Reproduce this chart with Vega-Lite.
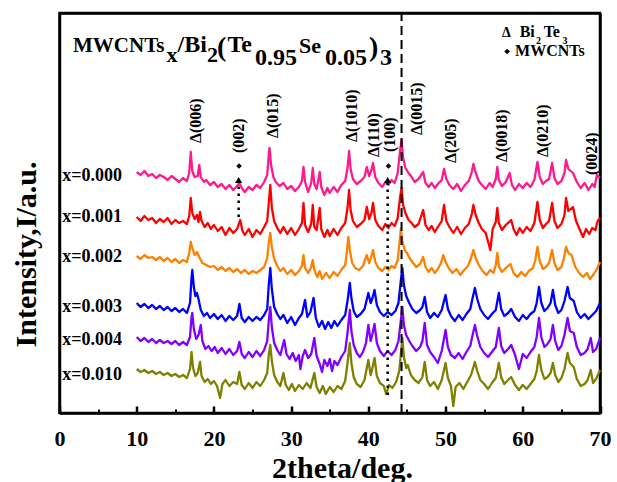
{
"$schema":"https://vega.github.io/schema/vega-lite/v6.json",
"width":540.5,"height":400,
"autosize":{"type":"none"},
"padding":{"left":59.5,"top":13,"right":17,"bottom":69},
"background":"white",
"config":{"view":{"stroke":"black","strokeWidth":2.5},"font":"Liberation Serif"},
"datasets":{
"xrd":[
{"s":"a","x":10.0,"y":241},{"s":"a","x":10.5,"y":238},{"s":"a","x":11.0,"y":242},{"s":"a","x":11.5,"y":237},{"s":"a","x":12.0,"y":239},{"s":"a","x":12.5,"y":235},{"s":"a","x":13.0,"y":238},{"s":"a","x":13.5,"y":236},{"s":"a","x":14.0,"y":233},{"s":"a","x":14.5,"y":237},{"s":"a","x":15.0,"y":234},{"s":"a","x":15.5,"y":231},{"s":"a","x":16.0,"y":235},{"s":"a","x":16.5,"y":232},{"s":"a","x":16.8,"y":240},{"s":"a","x":17.0,"y":261},{"s":"a","x":17.2,"y":242},{"s":"a","x":17.5,"y":236},{"s":"a","x":17.9,"y":237},{"s":"a","x":18.1,"y":248},{"s":"a","x":18.3,"y":236},{"s":"a","x":18.7,"y":231},{"s":"a","x":19.0,"y":233},{"s":"a","x":19.5,"y":228},{"s":"a","x":20.0,"y":231},{"s":"a","x":20.5,"y":226},{"s":"a","x":21.0,"y":229},{"s":"a","x":21.5,"y":224},{"s":"a","x":22.0,"y":228},{"s":"a","x":22.5,"y":223},{"s":"a","x":23.0,"y":227},{"s":"a","x":23.3,"y":230},{"s":"a","x":23.6,"y":225},{"s":"a","x":24.0,"y":221},{"s":"a","x":24.5,"y":226},{"s":"a","x":25.0,"y":223},{"s":"a","x":25.5,"y":228},{"s":"a","x":26.0,"y":225},{"s":"a","x":26.5,"y":231},{"s":"a","x":26.9,"y":238},{"s":"a","x":27.1,"y":258},{"s":"a","x":27.2,"y":265},{"s":"a","x":27.4,"y":248},{"s":"a","x":27.7,"y":236},{"s":"a","x":28.0,"y":231},{"s":"a","x":28.5,"y":227},{"s":"a","x":29.0,"y":230},{"s":"a","x":29.5,"y":224},{"s":"a","x":30.0,"y":227},{"s":"a","x":30.5,"y":222},{"s":"a","x":31.0,"y":226},{"s":"a","x":31.4,"y":232},{"s":"a","x":31.6,"y":246},{"s":"a","x":31.8,"y":231},{"s":"a","x":32.2,"y":221},{"s":"a","x":32.6,"y":230},{"s":"a","x":32.8,"y":245},{"s":"a","x":33.0,"y":229},{"s":"a","x":33.3,"y":224},{"s":"a","x":33.7,"y":241},{"s":"a","x":33.9,"y":226},{"s":"a","x":34.3,"y":218},{"s":"a","x":34.7,"y":225},{"s":"a","x":35.0,"y":220},{"s":"a","x":35.5,"y":226},{"s":"a","x":36.0,"y":221},{"s":"a","x":36.5,"y":228},{"s":"a","x":37.0,"y":232},{"s":"a","x":37.3,"y":245},{"s":"a","x":37.5,"y":262},{"s":"a","x":37.7,"y":244},{"s":"a","x":38.0,"y":234},{"s":"a","x":38.5,"y":229},{"s":"a","x":39.0,"y":232},{"s":"a","x":39.5,"y":236},{"s":"a","x":39.8,"y":246},{"s":"a","x":40.1,"y":237},{"s":"a","x":40.4,"y":243},{"s":"a","x":40.6,"y":250},{"s":"a","x":40.9,"y":236},{"s":"a","x":41.3,"y":230},{"s":"a","x":41.8,"y":226},{"s":"a","x":42.2,"y":231},{"s":"a","x":42.6,"y":228},{"s":"a","x":43.0,"y":233},{"s":"a","x":43.4,"y":230},{"s":"a","x":43.8,"y":240},{"s":"a","x":44.1,"y":262},{"s":"a","x":44.3,"y":273},{"s":"a","x":44.5,"y":255},{"s":"a","x":44.8,"y":245},{"s":"a","x":45.2,"y":240},{"s":"a","x":45.6,"y":236},{"s":"a","x":46.0,"y":231},{"s":"a","x":46.5,"y":234},{"s":"a","x":47.1,"y":241},{"s":"a","x":47.4,"y":230},{"s":"a","x":47.8,"y":226},{"s":"a","x":48.2,"y":230},{"s":"a","x":48.6,"y":225},{"s":"a","x":49.0,"y":229},{"s":"a","x":49.5,"y":233},{"s":"a","x":49.8,"y":244},{"s":"a","x":50.1,"y":234},{"s":"a","x":50.5,"y":228},{"s":"a","x":51.0,"y":224},{"s":"a","x":51.5,"y":229},{"s":"a","x":52.0,"y":222},{"s":"a","x":52.5,"y":228},{"s":"a","x":53.0,"y":232},{"s":"a","x":53.4,"y":241},{"s":"a","x":53.6,"y":249},{"s":"a","x":53.9,"y":240},{"s":"a","x":54.3,"y":232},{"s":"a","x":54.7,"y":228},{"s":"a","x":55.2,"y":224},{"s":"a","x":55.7,"y":230},{"s":"a","x":56.1,"y":226},{"s":"a","x":56.5,"y":234},{"s":"a","x":56.7,"y":246},{"s":"a","x":56.9,"y":233},{"s":"a","x":57.3,"y":227},{"s":"a","x":57.8,"y":231},{"s":"a","x":58.3,"y":240},{"s":"a","x":58.6,"y":228},{"s":"a","x":59.0,"y":223},{"s":"a","x":59.5,"y":229},{"s":"a","x":60.0,"y":225},{"s":"a","x":60.5,"y":230},{"s":"a","x":61.0,"y":226},{"s":"a","x":61.5,"y":233},{"s":"a","x":61.9,"y":251},{"s":"a","x":62.2,"y":236},{"s":"a","x":62.6,"y":229},{"s":"a","x":63.0,"y":232},{"s":"a","x":63.4,"y":234},{"s":"a","x":63.8,"y":250},{"s":"a","x":64.1,"y":235},{"s":"a","x":64.5,"y":229},{"s":"a","x":65.0,"y":232},{"s":"a","x":65.4,"y":240},{"s":"a","x":65.6,"y":253},{"s":"a","x":65.9,"y":244},{"s":"a","x":66.5,"y":240},{"s":"a","x":67.0,"y":231},{"s":"a","x":67.5,"y":225},{"s":"a","x":68.0,"y":230},{"s":"a","x":68.5,"y":223},{"s":"a","x":69.0,"y":229},{"s":"a","x":69.3,"y":226},{"s":"a","x":69.6,"y":238},{"s":"a","x":70.0,"y":235},
{"s":"b","x":10.0,"y":196},{"s":"b","x":10.5,"y":192},{"s":"b","x":11.0,"y":197},{"s":"b","x":11.5,"y":193},{"s":"b","x":12.0,"y":195},{"s":"b","x":12.5,"y":190},{"s":"b","x":13.0,"y":194},{"s":"b","x":13.5,"y":191},{"s":"b","x":14.0,"y":195},{"s":"b","x":14.5,"y":189},{"s":"b","x":15.0,"y":193},{"s":"b","x":15.5,"y":190},{"s":"b","x":16.0,"y":192},{"s":"b","x":16.5,"y":189},{"s":"b","x":16.8,"y":197},{"s":"b","x":17.0,"y":215},{"s":"b","x":17.2,"y":200},{"s":"b","x":17.5,"y":194},{"s":"b","x":17.8,"y":198},{"s":"b","x":18.0,"y":191},{"s":"b","x":18.2,"y":201},{"s":"b","x":18.4,"y":192},{"s":"b","x":18.8,"y":186},{"s":"b","x":19.2,"y":190},{"s":"b","x":19.6,"y":184},{"s":"b","x":20.0,"y":188},{"s":"b","x":20.5,"y":182},{"s":"b","x":21.0,"y":186},{"s":"b","x":21.5,"y":178},{"s":"b","x":22.0,"y":185},{"s":"b","x":22.5,"y":180},{"s":"b","x":23.0,"y":184},{"s":"b","x":23.4,"y":193},{"s":"b","x":23.7,"y":182},{"s":"b","x":24.0,"y":178},{"s":"b","x":24.5,"y":184},{"s":"b","x":25.0,"y":176},{"s":"b","x":25.5,"y":183},{"s":"b","x":26.0,"y":179},{"s":"b","x":26.5,"y":186},{"s":"b","x":26.9,"y":192},{"s":"b","x":27.1,"y":210},{"s":"b","x":27.3,"y":228},{"s":"b","x":27.5,"y":205},{"s":"b","x":27.8,"y":192},{"s":"b","x":28.2,"y":185},{"s":"b","x":28.6,"y":180},{"s":"b","x":29.0,"y":186},{"s":"b","x":29.5,"y":179},{"s":"b","x":30.0,"y":185},{"s":"b","x":30.5,"y":178},{"s":"b","x":31.0,"y":184},{"s":"b","x":31.4,"y":190},{"s":"b","x":31.6,"y":210},{"s":"b","x":31.8,"y":188},{"s":"b","x":32.2,"y":181},{"s":"b","x":32.6,"y":189},{"s":"b","x":32.8,"y":208},{"s":"b","x":33.0,"y":186},{"s":"b","x":33.3,"y":183},{"s":"b","x":33.7,"y":205},{"s":"b","x":33.9,"y":184},{"s":"b","x":34.3,"y":176},{"s":"b","x":34.7,"y":183},{"s":"b","x":35.0,"y":177},{"s":"b","x":35.5,"y":184},{"s":"b","x":36.0,"y":178},{"s":"b","x":36.5,"y":185},{"s":"b","x":37.0,"y":190},{"s":"b","x":37.3,"y":205},{"s":"b","x":37.5,"y":223},{"s":"b","x":37.7,"y":203},{"s":"b","x":38.0,"y":192},{"s":"b","x":38.5,"y":186},{"s":"b","x":39.0,"y":189},{"s":"b","x":39.5,"y":193},{"s":"b","x":39.8,"y":206},{"s":"b","x":40.1,"y":194},{"s":"b","x":40.4,"y":200},{"s":"b","x":40.6,"y":210},{"s":"b","x":40.9,"y":193},{"s":"b","x":41.3,"y":187},{"s":"b","x":41.8,"y":183},{"s":"b","x":42.2,"y":189},{"s":"b","x":42.6,"y":185},{"s":"b","x":43.0,"y":190},{"s":"b","x":43.4,"y":187},{"s":"b","x":43.8,"y":195},{"s":"b","x":44.1,"y":215},{"s":"b","x":44.3,"y":225},{"s":"b","x":44.5,"y":208},{"s":"b","x":44.8,"y":200},{"s":"b","x":45.2,"y":193},{"s":"b","x":45.6,"y":190},{"s":"b","x":46.0,"y":186},{"s":"b","x":46.5,"y":189},{"s":"b","x":47.1,"y":203},{"s":"b","x":47.4,"y":188},{"s":"b","x":47.8,"y":183},{"s":"b","x":48.2,"y":187},{"s":"b","x":48.6,"y":181},{"s":"b","x":49.0,"y":186},{"s":"b","x":49.5,"y":192},{"s":"b","x":49.8,"y":208},{"s":"b","x":50.1,"y":192},{"s":"b","x":50.5,"y":186},{"s":"b","x":51.0,"y":180},{"s":"b","x":51.5,"y":186},{"s":"b","x":52.0,"y":179},{"s":"b","x":52.5,"y":185},{"s":"b","x":53.0,"y":189},{"s":"b","x":53.4,"y":199},{"s":"b","x":53.6,"y":208},{"s":"b","x":53.9,"y":198},{"s":"b","x":54.3,"y":190},{"s":"b","x":54.7,"y":184},{"s":"b","x":55.2,"y":180},{"s":"b","x":55.8,"y":163},{"s":"b","x":56.1,"y":184},{"s":"b","x":56.5,"y":191},{"s":"b","x":56.7,"y":205},{"s":"b","x":56.9,"y":190},{"s":"b","x":57.3,"y":183},{"s":"b","x":57.8,"y":188},{"s":"b","x":58.5,"y":193},{"s":"b","x":58.8,"y":184},{"s":"b","x":59.2,"y":178},{"s":"b","x":59.6,"y":185},{"s":"b","x":60.0,"y":180},{"s":"b","x":60.5,"y":186},{"s":"b","x":61.0,"y":182},{"s":"b","x":61.5,"y":190},{"s":"b","x":61.9,"y":211},{"s":"b","x":62.2,"y":193},{"s":"b","x":62.6,"y":185},{"s":"b","x":63.0,"y":189},{"s":"b","x":63.4,"y":192},{"s":"b","x":63.8,"y":210},{"s":"b","x":64.1,"y":192},{"s":"b","x":64.5,"y":185},{"s":"b","x":65.0,"y":189},{"s":"b","x":65.4,"y":198},{"s":"b","x":65.6,"y":215},{"s":"b","x":65.9,"y":202},{"s":"b","x":66.5,"y":206},{"s":"b","x":66.9,"y":192},{"s":"b","x":67.4,"y":183},{"s":"b","x":67.8,"y":176},{"s":"b","x":68.2,"y":184},{"s":"b","x":68.6,"y":179},{"s":"b","x":69.0,"y":185},{"s":"b","x":69.4,"y":183},{"s":"b","x":69.7,"y":192},{"s":"b","x":70.0,"y":195},
{"s":"c","x":10.0,"y":157},{"s":"c","x":10.5,"y":154},{"s":"c","x":11.0,"y":158},{"s":"c","x":11.5,"y":155},{"s":"c","x":12.0,"y":156},{"s":"c","x":12.5,"y":153},{"s":"c","x":13.0,"y":156},{"s":"c","x":13.5,"y":152},{"s":"c","x":14.0,"y":155},{"s":"c","x":14.5,"y":151},{"s":"c","x":15.0,"y":154},{"s":"c","x":15.5,"y":150},{"s":"c","x":16.0,"y":153},{"s":"c","x":16.5,"y":151},{"s":"c","x":16.8,"y":160},{"s":"c","x":17.0,"y":171},{"s":"c","x":17.2,"y":165},{"s":"c","x":17.5,"y":158},{"s":"c","x":17.8,"y":161},{"s":"c","x":18.1,"y":156},{"s":"c","x":18.5,"y":150},{"s":"c","x":19.0,"y":148},{"s":"c","x":19.5,"y":146},{"s":"c","x":20.0,"y":147},{"s":"c","x":20.5,"y":143},{"s":"c","x":21.0,"y":146},{"s":"c","x":21.5,"y":142},{"s":"c","x":22.0,"y":145},{"s":"c","x":22.5,"y":141},{"s":"c","x":23.0,"y":144},{"s":"c","x":23.5,"y":140},{"s":"c","x":24.0,"y":143},{"s":"c","x":24.5,"y":139},{"s":"c","x":25.0,"y":142},{"s":"c","x":25.5,"y":140},{"s":"c","x":26.0,"y":143},{"s":"c","x":26.5,"y":146},{"s":"c","x":26.9,"y":155},{"s":"c","x":27.1,"y":170},{"s":"c","x":27.3,"y":180},{"s":"c","x":27.5,"y":166},{"s":"c","x":27.8,"y":154},{"s":"c","x":28.2,"y":147},{"s":"c","x":28.6,"y":142},{"s":"c","x":29.0,"y":145},{"s":"c","x":29.5,"y":139},{"s":"c","x":30.0,"y":143},{"s":"c","x":30.5,"y":138},{"s":"c","x":31.0,"y":142},{"s":"c","x":31.4,"y":147},{"s":"c","x":31.6,"y":158},{"s":"c","x":31.8,"y":145},{"s":"c","x":32.2,"y":140},{"s":"c","x":32.6,"y":146},{"s":"c","x":32.8,"y":153},{"s":"c","x":33.0,"y":143},{"s":"c","x":33.4,"y":136},{"s":"c","x":33.7,"y":142},{"s":"c","x":34.0,"y":134},{"s":"c","x":34.5,"y":140},{"s":"c","x":35.0,"y":135},{"s":"c","x":35.5,"y":141},{"s":"c","x":36.0,"y":137},{"s":"c","x":36.5,"y":143},{"s":"c","x":37.0,"y":148},{"s":"c","x":37.2,"y":160},{"s":"c","x":37.4,"y":176},{"s":"c","x":37.6,"y":163},{"s":"c","x":37.9,"y":150},{"s":"c","x":38.3,"y":145},{"s":"c","x":38.8,"y":143},{"s":"c","x":39.3,"y":147},{"s":"c","x":39.8,"y":158},{"s":"c","x":40.1,"y":150},{"s":"c","x":40.4,"y":157},{"s":"c","x":40.6,"y":163},{"s":"c","x":40.9,"y":151},{"s":"c","x":41.3,"y":145},{"s":"c","x":41.8,"y":142},{"s":"c","x":42.2,"y":146},{"s":"c","x":42.6,"y":143},{"s":"c","x":43.0,"y":147},{"s":"c","x":43.4,"y":145},{"s":"c","x":43.8,"y":153},{"s":"c","x":44.0,"y":168},{"s":"c","x":44.2,"y":184},{"s":"c","x":44.4,"y":172},{"s":"c","x":44.7,"y":163},{"s":"c","x":45.0,"y":160},{"s":"c","x":45.4,"y":154},{"s":"c","x":45.8,"y":150},{"s":"c","x":46.2,"y":146},{"s":"c","x":46.7,"y":149},{"s":"c","x":47.1,"y":156},{"s":"c","x":47.4,"y":146},{"s":"c","x":47.8,"y":141},{"s":"c","x":48.2,"y":145},{"s":"c","x":48.6,"y":140},{"s":"c","x":49.0,"y":144},{"s":"c","x":49.4,"y":150},{"s":"c","x":49.7,"y":158},{"s":"c","x":50.0,"y":151},{"s":"c","x":50.4,"y":145},{"s":"c","x":50.9,"y":140},{"s":"c","x":51.4,"y":144},{"s":"c","x":51.9,"y":138},{"s":"c","x":52.4,"y":143},{"s":"c","x":52.9,"y":147},{"s":"c","x":53.3,"y":155},{"s":"c","x":53.6,"y":163},{"s":"c","x":53.9,"y":155},{"s":"c","x":54.3,"y":148},{"s":"c","x":54.8,"y":142},{"s":"c","x":55.3,"y":138},{"s":"c","x":55.8,"y":143},{"s":"c","x":56.2,"y":140},{"s":"c","x":56.5,"y":148},{"s":"c","x":56.7,"y":160},{"s":"c","x":56.9,"y":147},{"s":"c","x":57.3,"y":141},{"s":"c","x":57.8,"y":145},{"s":"c","x":58.4,"y":149},{"s":"c","x":58.8,"y":140},{"s":"c","x":59.3,"y":136},{"s":"c","x":59.8,"y":141},{"s":"c","x":60.3,"y":137},{"s":"c","x":60.8,"y":142},{"s":"c","x":61.3,"y":145},{"s":"c","x":61.6,"y":152},{"s":"c","x":61.9,"y":166},{"s":"c","x":62.2,"y":152},{"s":"c","x":62.6,"y":144},{"s":"c","x":63.0,"y":146},{"s":"c","x":63.4,"y":150},{"s":"c","x":63.8,"y":163},{"s":"c","x":64.1,"y":150},{"s":"c","x":64.5,"y":143},{"s":"c","x":65.0,"y":146},{"s":"c","x":65.3,"y":154},{"s":"c","x":65.6,"y":166},{"s":"c","x":65.9,"y":160},{"s":"c","x":66.3,"y":158},{"s":"c","x":66.8,"y":146},{"s":"c","x":67.3,"y":140},{"s":"c","x":67.8,"y":136},{"s":"c","x":68.3,"y":140},{"s":"c","x":68.7,"y":134},{"s":"c","x":69.2,"y":139},{"s":"c","x":69.6,"y":144},{"s":"c","x":70.0,"y":151},
{"s":"d","x":10.0,"y":110},{"s":"d","x":10.5,"y":106},{"s":"d","x":11.0,"y":109},{"s":"d","x":11.5,"y":105},{"s":"d","x":12.0,"y":108},{"s":"d","x":12.5,"y":104},{"s":"d","x":13.0,"y":107},{"s":"d","x":13.5,"y":103},{"s":"d","x":14.0,"y":106},{"s":"d","x":14.5,"y":102},{"s":"d","x":15.0,"y":105},{"s":"d","x":15.5,"y":101},{"s":"d","x":16.0,"y":104},{"s":"d","x":16.5,"y":100},{"s":"d","x":16.9,"y":110},{"s":"d","x":17.1,"y":135},{"s":"d","x":17.2,"y":143},{"s":"d","x":17.4,"y":126},{"s":"d","x":17.6,"y":117},{"s":"d","x":17.8,"y":120},{"s":"d","x":18.0,"y":114},{"s":"d","x":18.3,"y":103},{"s":"d","x":18.7,"y":97},{"s":"d","x":19.1,"y":100},{"s":"d","x":19.5,"y":95},{"s":"d","x":20.0,"y":99},{"s":"d","x":20.5,"y":94},{"s":"d","x":21.0,"y":98},{"s":"d","x":21.5,"y":92},{"s":"d","x":22.0,"y":97},{"s":"d","x":22.5,"y":93},{"s":"d","x":23.0,"y":97},{"s":"d","x":23.3,"y":109},{"s":"d","x":23.6,"y":95},{"s":"d","x":24.0,"y":91},{"s":"d","x":24.5,"y":96},{"s":"d","x":25.0,"y":92},{"s":"d","x":25.5,"y":96},{"s":"d","x":26.0,"y":93},{"s":"d","x":26.5,"y":98},{"s":"d","x":26.9,"y":104},{"s":"d","x":27.1,"y":128},{"s":"d","x":27.3,"y":145},{"s":"d","x":27.5,"y":124},{"s":"d","x":27.8,"y":106},{"s":"d","x":28.2,"y":99},{"s":"d","x":28.6,"y":94},{"s":"d","x":29.0,"y":98},{"s":"d","x":29.5,"y":90},{"s":"d","x":30.0,"y":96},{"s":"d","x":30.5,"y":88},{"s":"d","x":31.0,"y":95},{"s":"d","x":31.4,"y":99},{"s":"d","x":31.8,"y":113},{"s":"d","x":32.1,"y":96},{"s":"d","x":32.5,"y":101},{"s":"d","x":32.9,"y":115},{"s":"d","x":33.2,"y":95},{"s":"d","x":33.6,"y":86},{"s":"d","x":34.0,"y":92},{"s":"d","x":34.4,"y":84},{"s":"d","x":34.8,"y":91},{"s":"d","x":35.2,"y":85},{"s":"d","x":35.6,"y":92},{"s":"d","x":36.0,"y":87},{"s":"d","x":36.5,"y":93},{"s":"d","x":37.0,"y":98},{"s":"d","x":37.3,"y":112},{"s":"d","x":37.6,"y":130},{"s":"d","x":37.8,"y":115},{"s":"d","x":38.1,"y":102},{"s":"d","x":38.5,"y":96},{"s":"d","x":39.0,"y":99},{"s":"d","x":39.5,"y":104},{"s":"d","x":40.0,"y":120},{"s":"d","x":40.3,"y":110},{"s":"d","x":40.5,"y":114},{"s":"d","x":40.8,"y":123},{"s":"d","x":41.1,"y":108},{"s":"d","x":41.5,"y":101},{"s":"d","x":42.0,"y":97},{"s":"d","x":42.5,"y":101},{"s":"d","x":43.0,"y":98},{"s":"d","x":43.5,"y":102},{"s":"d","x":43.9,"y":110},{"s":"d","x":44.2,"y":132},{"s":"d","x":44.4,"y":145},{"s":"d","x":44.6,"y":128},{"s":"d","x":44.9,"y":117},{"s":"d","x":45.3,"y":110},{"s":"d","x":45.7,"y":104},{"s":"d","x":46.2,"y":100},{"s":"d","x":46.7,"y":103},{"s":"d","x":47.0,"y":106},{"s":"d","x":47.3,"y":116},{"s":"d","x":47.6,"y":101},{"s":"d","x":48.0,"y":95},{"s":"d","x":48.5,"y":100},{"s":"d","x":49.0,"y":96},{"s":"d","x":49.5,"y":103},{"s":"d","x":50.0,"y":118},{"s":"d","x":50.3,"y":104},{"s":"d","x":50.7,"y":97},{"s":"d","x":51.2,"y":92},{"s":"d","x":51.7,"y":98},{"s":"d","x":52.2,"y":93},{"s":"d","x":52.7,"y":99},{"s":"d","x":53.2,"y":104},{"s":"d","x":53.5,"y":115},{"s":"d","x":53.8,"y":125},{"s":"d","x":54.1,"y":114},{"s":"d","x":54.5,"y":104},{"s":"d","x":55.0,"y":98},{"s":"d","x":55.5,"y":94},{"s":"d","x":56.0,"y":99},{"s":"d","x":56.5,"y":103},{"s":"d","x":56.9,"y":120},{"s":"d","x":57.2,"y":104},{"s":"d","x":57.6,"y":97},{"s":"d","x":58.1,"y":100},{"s":"d","x":58.5,"y":104},{"s":"d","x":59.0,"y":96},{"s":"d","x":59.5,"y":92},{"s":"d","x":60.0,"y":98},{"s":"d","x":60.5,"y":94},{"s":"d","x":61.0,"y":99},{"s":"d","x":61.5,"y":102},{"s":"d","x":61.8,"y":110},{"s":"d","x":62.1,"y":126},{"s":"d","x":62.4,"y":110},{"s":"d","x":62.8,"y":102},{"s":"d","x":63.2,"y":105},{"s":"d","x":63.6,"y":110},{"s":"d","x":63.9,"y":123},{"s":"d","x":64.2,"y":108},{"s":"d","x":64.6,"y":100},{"s":"d","x":65.0,"y":103},{"s":"d","x":65.4,"y":112},{"s":"d","x":65.8,"y":126},{"s":"d","x":66.1,"y":115},{"s":"d","x":66.6,"y":112},{"s":"d","x":67.0,"y":101},{"s":"d","x":67.5,"y":95},{"s":"d","x":68.0,"y":99},{"s":"d","x":68.5,"y":94},{"s":"d","x":69.0,"y":98},{"s":"d","x":69.5,"y":102},{"s":"d","x":70.0,"y":110},
{"s":"e","x":10.0,"y":76},{"s":"e","x":10.5,"y":72},{"s":"e","x":11.0,"y":75},{"s":"e","x":11.5,"y":71},{"s":"e","x":12.0,"y":74},{"s":"e","x":12.5,"y":70},{"s":"e","x":13.0,"y":73},{"s":"e","x":13.5,"y":70},{"s":"e","x":14.0,"y":72},{"s":"e","x":14.5,"y":69},{"s":"e","x":15.0,"y":72},{"s":"e","x":15.5,"y":68},{"s":"e","x":16.0,"y":71},{"s":"e","x":16.5,"y":68},{"s":"e","x":16.9,"y":76},{"s":"e","x":17.1,"y":96},{"s":"e","x":17.2,"y":100},{"s":"e","x":17.4,"y":84},{"s":"e","x":17.7,"y":74},{"s":"e","x":18.0,"y":78},{"s":"e","x":18.3,"y":88},{"s":"e","x":18.5,"y":72},{"s":"e","x":18.9,"y":64},{"s":"e","x":19.3,"y":67},{"s":"e","x":19.7,"y":62},{"s":"e","x":20.1,"y":66},{"s":"e","x":20.5,"y":60},{"s":"e","x":21.0,"y":65},{"s":"e","x":21.5,"y":59},{"s":"e","x":22.0,"y":64},{"s":"e","x":22.5,"y":58},{"s":"e","x":23.0,"y":62},{"s":"e","x":23.3,"y":71},{"s":"e","x":23.6,"y":59},{"s":"e","x":24.0,"y":55},{"s":"e","x":24.5,"y":61},{"s":"e","x":25.0,"y":56},{"s":"e","x":25.5,"y":62},{"s":"e","x":26.0,"y":57},{"s":"e","x":26.5,"y":63},{"s":"e","x":26.9,"y":72},{"s":"e","x":27.1,"y":92},{"s":"e","x":27.3,"y":106},{"s":"e","x":27.5,"y":86},{"s":"e","x":27.8,"y":70},{"s":"e","x":28.2,"y":63},{"s":"e","x":28.6,"y":58},{"s":"e","x":29.1,"y":73},{"s":"e","x":29.4,"y":59},{"s":"e","x":29.8,"y":54},{"s":"e","x":30.2,"y":60},{"s":"e","x":30.6,"y":52},{"s":"e","x":31.0,"y":58},{"s":"e","x":31.2,"y":44},{"s":"e","x":31.5,"y":57},{"s":"e","x":31.8,"y":63},{"s":"e","x":32.2,"y":55},{"s":"e","x":32.6,"y":59},{"s":"e","x":33.0,"y":75},{"s":"e","x":33.3,"y":57},{"s":"e","x":33.7,"y":49},{"s":"e","x":34.0,"y":41},{"s":"e","x":34.3,"y":53},{"s":"e","x":34.7,"y":47},{"s":"e","x":35.0,"y":54},{"s":"e","x":35.3,"y":42},{"s":"e","x":35.6,"y":52},{"s":"e","x":36.0,"y":48},{"s":"e","x":36.5,"y":56},{"s":"e","x":37.0,"y":62},{"s":"e","x":37.3,"y":80},{"s":"e","x":37.6,"y":103},{"s":"e","x":37.8,"y":82},{"s":"e","x":38.1,"y":68},{"s":"e","x":38.5,"y":60},{"s":"e","x":38.9,"y":56},{"s":"e","x":39.3,"y":61},{"s":"e","x":39.7,"y":70},{"s":"e","x":40.0,"y":88},{"s":"e","x":40.3,"y":72},{"s":"e","x":40.5,"y":78},{"s":"e","x":40.8,"y":89},{"s":"e","x":41.1,"y":70},{"s":"e","x":41.5,"y":62},{"s":"e","x":42.0,"y":57},{"s":"e","x":42.5,"y":62},{"s":"e","x":43.0,"y":58},{"s":"e","x":43.5,"y":63},{"s":"e","x":43.9,"y":72},{"s":"e","x":44.2,"y":92},{"s":"e","x":44.4,"y":106},{"s":"e","x":44.6,"y":88},{"s":"e","x":44.9,"y":78},{"s":"e","x":45.3,"y":72},{"s":"e","x":45.7,"y":67},{"s":"e","x":46.2,"y":62},{"s":"e","x":46.7,"y":66},{"s":"e","x":47.0,"y":72},{"s":"e","x":47.3,"y":90},{"s":"e","x":47.6,"y":68},{"s":"e","x":48.0,"y":61},{"s":"e","x":48.5,"y":56},{"s":"e","x":49.0,"y":50},{"s":"e","x":49.5,"y":62},{"s":"e","x":50.0,"y":83},{"s":"e","x":50.3,"y":66},{"s":"e","x":50.7,"y":58},{"s":"e","x":51.2,"y":55},{"s":"e","x":51.7,"y":60},{"s":"e","x":52.2,"y":54},{"s":"e","x":52.7,"y":61},{"s":"e","x":53.2,"y":67},{"s":"e","x":53.5,"y":78},{"s":"e","x":53.8,"y":88},{"s":"e","x":54.1,"y":77},{"s":"e","x":54.5,"y":66},{"s":"e","x":55.0,"y":60},{"s":"e","x":55.5,"y":56},{"s":"e","x":56.0,"y":61},{"s":"e","x":56.5,"y":66},{"s":"e","x":56.9,"y":85},{"s":"e","x":57.2,"y":67},{"s":"e","x":57.6,"y":60},{"s":"e","x":58.1,"y":64},{"s":"e","x":58.5,"y":68},{"s":"e","x":59.0,"y":58},{"s":"e","x":59.5,"y":44},{"s":"e","x":60.0,"y":59},{"s":"e","x":60.5,"y":55},{"s":"e","x":61.0,"y":61},{"s":"e","x":61.5,"y":66},{"s":"e","x":61.8,"y":76},{"s":"e","x":62.1,"y":95},{"s":"e","x":62.4,"y":76},{"s":"e","x":62.8,"y":66},{"s":"e","x":63.2,"y":69},{"s":"e","x":63.6,"y":74},{"s":"e","x":63.9,"y":88},{"s":"e","x":64.2,"y":72},{"s":"e","x":64.6,"y":63},{"s":"e","x":65.0,"y":67},{"s":"e","x":65.4,"y":78},{"s":"e","x":65.8,"y":95},{"s":"e","x":66.1,"y":82},{"s":"e","x":66.6,"y":80},{"s":"e","x":67.0,"y":66},{"s":"e","x":67.5,"y":58},{"s":"e","x":68.0,"y":60},{"s":"e","x":68.4,"y":64},{"s":"e","x":68.8,"y":75},{"s":"e","x":69.1,"y":61},{"s":"e","x":69.5,"y":64},{"s":"e","x":70.0,"y":75},
{"s":"f","x":10.0,"y":44},{"s":"f","x":10.5,"y":41},{"s":"f","x":11.0,"y":43},{"s":"f","x":11.5,"y":40},{"s":"f","x":12.0,"y":42},{"s":"f","x":12.5,"y":39},{"s":"f","x":13.0,"y":41},{"s":"f","x":13.5,"y":38},{"s":"f","x":14.0,"y":40},{"s":"f","x":14.5,"y":37},{"s":"f","x":15.0,"y":39},{"s":"f","x":15.5,"y":36},{"s":"f","x":16.0,"y":38},{"s":"f","x":16.5,"y":35},{"s":"f","x":16.9,"y":44},{"s":"f","x":17.1,"y":61},{"s":"f","x":17.3,"y":45},{"s":"f","x":17.6,"y":37},{"s":"f","x":17.9,"y":40},{"s":"f","x":18.2,"y":51},{"s":"f","x":18.4,"y":37},{"s":"f","x":18.8,"y":31},{"s":"f","x":19.2,"y":34},{"s":"f","x":19.6,"y":29},{"s":"f","x":20.0,"y":32},{"s":"f","x":20.4,"y":27},{"s":"f","x":20.8,"y":15},{"s":"f","x":21.1,"y":29},{"s":"f","x":21.5,"y":33},{"s":"f","x":22.0,"y":27},{"s":"f","x":22.5,"y":31},{"s":"f","x":23.0,"y":29},{"s":"f","x":23.3,"y":41},{"s":"f","x":23.6,"y":28},{"s":"f","x":24.0,"y":24},{"s":"f","x":24.5,"y":30},{"s":"f","x":25.0,"y":25},{"s":"f","x":25.5,"y":31},{"s":"f","x":26.0,"y":27},{"s":"f","x":26.5,"y":33},{"s":"f","x":26.9,"y":40},{"s":"f","x":27.1,"y":58},{"s":"f","x":27.3,"y":68},{"s":"f","x":27.5,"y":52},{"s":"f","x":27.8,"y":38},{"s":"f","x":28.2,"y":31},{"s":"f","x":28.6,"y":27},{"s":"f","x":29.0,"y":40},{"s":"f","x":29.3,"y":28},{"s":"f","x":29.7,"y":23},{"s":"f","x":30.1,"y":29},{"s":"f","x":30.5,"y":22},{"s":"f","x":31.0,"y":28},{"s":"f","x":31.5,"y":24},{"s":"f","x":32.0,"y":30},{"s":"f","x":32.5,"y":25},{"s":"f","x":33.0,"y":40},{"s":"f","x":33.3,"y":26},{"s":"f","x":33.7,"y":20},{"s":"f","x":34.1,"y":27},{"s":"f","x":34.5,"y":19},{"s":"f","x":35.0,"y":26},{"s":"f","x":35.5,"y":21},{"s":"f","x":36.0,"y":27},{"s":"f","x":36.5,"y":24},{"s":"f","x":37.0,"y":32},{"s":"f","x":37.3,"y":50},{"s":"f","x":37.6,"y":70},{"s":"f","x":37.8,"y":50},{"s":"f","x":38.1,"y":36},{"s":"f","x":38.5,"y":29},{"s":"f","x":39.0,"y":26},{"s":"f","x":39.5,"y":33},{"s":"f","x":40.0,"y":53},{"s":"f","x":40.3,"y":38},{"s":"f","x":40.5,"y":44},{"s":"f","x":40.8,"y":55},{"s":"f","x":41.1,"y":37},{"s":"f","x":41.5,"y":30},{"s":"f","x":42.0,"y":27},{"s":"f","x":42.3,"y":19},{"s":"f","x":42.7,"y":28},{"s":"f","x":43.1,"y":25},{"s":"f","x":43.6,"y":31},{"s":"f","x":44.0,"y":42},{"s":"f","x":44.2,"y":58},{"s":"f","x":44.4,"y":75},{"s":"f","x":44.6,"y":56},{"s":"f","x":44.9,"y":45},{"s":"f","x":45.1,"y":48},{"s":"f","x":45.5,"y":38},{"s":"f","x":46.0,"y":33},{"s":"f","x":46.5,"y":30},{"s":"f","x":47.0,"y":36},{"s":"f","x":47.3,"y":51},{"s":"f","x":47.6,"y":33},{"s":"f","x":48.0,"y":27},{"s":"f","x":48.5,"y":31},{"s":"f","x":49.0,"y":24},{"s":"f","x":49.5,"y":33},{"s":"f","x":50.0,"y":50},{"s":"f","x":50.3,"y":35},{"s":"f","x":50.7,"y":27},{"s":"f","x":51.0,"y":7},{"s":"f","x":51.3,"y":26},{"s":"f","x":51.8,"y":30},{"s":"f","x":52.3,"y":24},{"s":"f","x":52.8,"y":31},{"s":"f","x":53.3,"y":38},{"s":"f","x":53.8,"y":51},{"s":"f","x":54.1,"y":42},{"s":"f","x":54.5,"y":33},{"s":"f","x":55.0,"y":29},{"s":"f","x":55.5,"y":24},{"s":"f","x":56.0,"y":30},{"s":"f","x":56.5,"y":35},{"s":"f","x":56.9,"y":50},{"s":"f","x":57.2,"y":36},{"s":"f","x":57.6,"y":29},{"s":"f","x":58.1,"y":33},{"s":"f","x":58.5,"y":36},{"s":"f","x":59.0,"y":28},{"s":"f","x":59.5,"y":23},{"s":"f","x":60.0,"y":28},{"s":"f","x":60.5,"y":24},{"s":"f","x":61.0,"y":29},{"s":"f","x":61.5,"y":34},{"s":"f","x":61.8,"y":42},{"s":"f","x":62.1,"y":58},{"s":"f","x":62.4,"y":43},{"s":"f","x":62.8,"y":34},{"s":"f","x":63.2,"y":36},{"s":"f","x":63.6,"y":40},{"s":"f","x":63.9,"y":50},{"s":"f","x":64.2,"y":38},{"s":"f","x":64.6,"y":31},{"s":"f","x":65.0,"y":35},{"s":"f","x":65.4,"y":44},{"s":"f","x":65.8,"y":60},{"s":"f","x":66.1,"y":50},{"s":"f","x":66.6,"y":46},{"s":"f","x":67.0,"y":34},{"s":"f","x":67.5,"y":27},{"s":"f","x":68.0,"y":29},{"s":"f","x":68.4,"y":33},{"s":"f","x":68.8,"y":43},{"s":"f","x":69.1,"y":30},{"s":"f","x":69.5,"y":34},{"s":"f","x":70.0,"y":43}
],
"samples":[
{"t":"x=0.000","x":8.1,"y":232.3},{"t":"x=0.001","x":8.1,"y":191.3},{"t":"x=0.002","x":8.1,"y":151.3},
{"t":"x=0.003","x":8.1,"y":101.3},{"t":"x=0.004","x":8.1,"y":68},{"t":"x=0.010","x":8.1,"y":33}
],
"peaks":[
{"t":"Δ(006)","x":17.73,"y":270},{"t":"(002)","x":23.25,"y":260},{"t":"Δ(015)","x":27.7,"y":275},
{"t":"Δ(1010)","x":37.9,"y":271},{"t":"Δ(110)","x":40.7,"y":256},{"t":"(100)","x":42.75,"y":261},
{"t":"Δ(0015)","x":46.3,"y":278},{"t":"Δ(205)","x":50.7,"y":250},{"t":"Δ(0018)","x":57.3,"y":251},
{"t":"Δ(0210)","x":62.6,"y":256},{"t":"(0024)","x":68.9,"y":238}
],
"words":[
{"t":"MWCNTs","x":1.75,"y":361.3,"role":"mw"},{"t":"x","x":13.86,"y":351.3,"role":"sub"},
{"t":"/Bi","x":15.28,"y":361.3,"role":"main"},{"t":"2","x":19.11,"y":351.3,"role":"sub"},
{"t":"(","x":20.4,"y":357,"role":"paren"},{"t":"Te","x":21.76,"y":361.3,"role":"main"},
{"t":"0.95","x":25.32,"y":348,"role":"subd"},{"t":"Se","x":31.02,"y":360,"role":"sub"},
{"t":"0.05","x":34.39,"y":348,"role":"subd"},{"t":")","x":40.09,"y":357,"role":"paren"},
{"t":"3","x":41.52,"y":348,"role":"subd"},
{"t":"Δ","x":57.3,"y":375.7,"role":"delta"},{"t":"Bi","x":59.6,"y":375.7,"role":"leg"},
{"t":"2","x":61.72,"y":369.5,"role":"legsub"},{"t":"Te","x":62.7,"y":375.7,"role":"leg"},
{"t":"3","x":65.15,"y":369.5,"role":"legsub"},{"t":"MWCNTs","x":59.0,"y":357,"role":"leg"}
],
"marks":[
{"x":23.2,"y":233,"m":"tri"},{"x":42.5,"y":233,"m":"tri"},
{"x":23.25,"y":247,"m":"dia"},{"x":42.6,"y":247,"m":"dia"},{"x":57.97,"y":361.5,"m":"dia"}
]
},
"layer":[
{"data":{"name":"xrd"},
 "mark":{"type":"line","strokeWidth":2.3,"strokeJoin":"round"},
 "encoding":{
  "x":{"field":"x","type":"quantitative","scale":{"domain":[0,70],"nice":false,"zero":false},
   "axis":{"orient":"bottom","values":[0,10,20,30,40,50,60,70],"tickSize":-7,"tickWidth":2.5,"tickColor":"black","domain":true,"domainColor":"black","domainWidth":2.5,"grid":false,
    "labelFont":"Liberation Serif","labelFontWeight":"bold","labelFontSize":22,"labelColor":"black","labelPadding":22,"labelFlush":false,"labelOverlap":false,
    "title":"2theta/deg.","titleFont":"Liberation Serif","titleFontWeight":"bold","titleFontSize":30,"titleColor":"black",
    "titleX":282.5,"titleY":64,"titleBaseline":"alphabetic","titleAlign":"center"}},
  "y":{"field":"y","type":"quantitative","scale":{"domain":[0,400],"nice":false,"zero":false},
   "axis":{"orient":"left","labels":false,"ticks":false,"domain":true,"domainColor":"black","domainWidth":2.5,"grid":false,
    "title":"Intensity,I/a.u.","titleFont":"Liberation Serif","titleFontWeight":"bold","titleFontSize":30,"titleColor":"black",
    "titleAngle":270,"titleX":-24.5,"titleY":241,"titleBaseline":"alphabetic","titleAlign":"center"}},
  "color":{"field":"s","type":"nominal","legend":null,
   "scale":{"domain":["a","b","c","d","e","f"],"range":["#ff1a8c","#ff0000","#ff8000","#0000ff","#8000ff","#808000"]}}
 }},
{"data":{"values":[{"x":44.3,"y":0,"y2":400}]},
 "mark":{"type":"rule","color":"black","strokeWidth":2,"strokeDash":[9,5]},
 "encoding":{
  "x":{"field":"x","type":"quantitative",
   "axis":{"orient":"bottom","values":[5,15,25,35,45,55,65],"tickSize":-4,"tickWidth":2,"tickColor":"black","labels":false,"domain":false,"grid":false,"title":null}},
  "y":{"field":"y","type":"quantitative",
   "axis":{"orient":"right","labels":false,"ticks":false,"domain":true,"domainColor":"black","domainWidth":2.5,"grid":false,"title":null}},
  "y2":{"field":"y2"}}},
{"data":{"values":[{"x":23.2,"y":196,"y2":230},{"x":42.5,"y":18,"y2":230}]},
 "mark":{"type":"rule","color":"black","strokeWidth":2.5,"strokeDash":[2.5,4.5]},
 "encoding":{
  "x":{"field":"x","type":"quantitative",
   "axis":{"orient":"top","labels":false,"ticks":false,"domain":true,"domainColor":"black","domainWidth":2.5,"grid":false,"title":null}},
  "y":{"field":"y","type":"quantitative","axis":null},"y2":{"field":"y2"}}},
{"data":{"name":"marks"},"transform":[{"filter":"datum.m === 'tri'"}],
 "mark":{"type":"point","shape":"triangle-up","filled":true,"color":"black","size":50,"opacity":1},
 "encoding":{"x":{"field":"x","type":"quantitative","axis":null},"y":{"field":"y","type":"quantitative","axis":null}}},
{"data":{"name":"marks"},"transform":[{"filter":"datum.m === 'dia'"}],
 "mark":{"type":"point","shape":"diamond","filled":true,"color":"black","size":32,"opacity":1},
 "encoding":{"x":{"field":"x","type":"quantitative","axis":null},"y":{"field":"y","type":"quantitative","axis":null}}},
{"data":{"name":"peaks"},
 "mark":{"type":"text","angle":270,"align":"left","baseline":"middle","font":"Liberation Serif","fontWeight":"bold","fontSize":16,"color":"black"},
 "encoding":{"x":{"field":"x","type":"quantitative","axis":null},"y":{"field":"y","type":"quantitative","axis":null},"text":{"field":"t"}}},
{"data":{"name":"samples"},
 "mark":{"type":"text","align":"right","baseline":"alphabetic","font":"Liberation Serif","fontWeight":"bold","fontSize":18,"color":"black"},
 "encoding":{"x":{"field":"x","type":"quantitative","axis":null},"y":{"field":"y","type":"quantitative","axis":null},"text":{"field":"t"}}},
{"data":{"name":"words"},"transform":[{"filter":"datum.role === 'mw'"}],
 "mark":{"type":"text","align":"left","baseline":"alphabetic","font":"Liberation Serif","fontWeight":"bold","fontSize":21,"color":"black"},
 "encoding":{"x":{"field":"x","type":"quantitative","axis":null},"y":{"field":"y","type":"quantitative","axis":null},"text":{"field":"t"}}},
{"data":{"name":"words"},"transform":[{"filter":"datum.role === 'main'"}],
 "mark":{"type":"text","align":"left","baseline":"alphabetic","font":"Liberation Serif","fontWeight":"bold","fontSize":24,"color":"black"},
 "encoding":{"x":{"field":"x","type":"quantitative","axis":null},"y":{"field":"y","type":"quantitative","axis":null},"text":{"field":"t"}}},
{"data":{"name":"words"},"transform":[{"filter":"datum.role === 'sub'"}],
 "mark":{"type":"text","align":"left","baseline":"alphabetic","font":"Liberation Serif","fontWeight":"bold","fontSize":22,"color":"black"},
 "encoding":{"x":{"field":"x","type":"quantitative","axis":null},"y":{"field":"y","type":"quantitative","axis":null},"text":{"field":"t"}}},
{"data":{"name":"words"},"transform":[{"filter":"datum.role === 'subd'"}],
 "mark":{"type":"text","align":"left","baseline":"alphabetic","font":"Liberation Serif","fontWeight":"bold","fontSize":24,"color":"black"},
 "encoding":{"x":{"field":"x","type":"quantitative","axis":null},"y":{"field":"y","type":"quantitative","axis":null},"text":{"field":"t"}}},
{"data":{"name":"words"},"transform":[{"filter":"datum.role === 'paren'"}],
 "mark":{"type":"text","align":"left","baseline":"alphabetic","font":"Liberation Serif","fontWeight":"bold","fontSize":28,"color":"black"},
 "encoding":{"x":{"field":"x","type":"quantitative","axis":null},"y":{"field":"y","type":"quantitative","axis":null},"text":{"field":"t"}}},
{"data":{"name":"words"},"transform":[{"filter":"datum.role === 'delta'"}],
 "mark":{"type":"text","align":"left","baseline":"alphabetic","font":"Liberation Serif","fontWeight":"bold","fontSize":14,"color":"black"},
 "encoding":{"x":{"field":"x","type":"quantitative","axis":null},"y":{"field":"y","type":"quantitative","axis":null},"text":{"field":"t"}}},
{"data":{"name":"words"},"transform":[{"filter":"datum.role === 'leg'"}],
 "mark":{"type":"text","align":"left","baseline":"alphabetic","font":"Liberation Serif","fontWeight":"bold","fontSize":16,"color":"black"},
 "encoding":{"x":{"field":"x","type":"quantitative","axis":null},"y":{"field":"y","type":"quantitative","axis":null},"text":{"field":"t"}}},
{"data":{"name":"words"},"transform":[{"filter":"datum.role === 'legsub'"}],
 "mark":{"type":"text","align":"left","baseline":"alphabetic","font":"Liberation Serif","fontWeight":"bold","fontSize":10,"color":"black"},
 "encoding":{"x":{"field":"x","type":"quantitative","axis":null},"y":{"field":"y","type":"quantitative","axis":null},"text":{"field":"t"}}}
],
"resolve":{"axis":{"x":"independent","y":"independent"}}
}
